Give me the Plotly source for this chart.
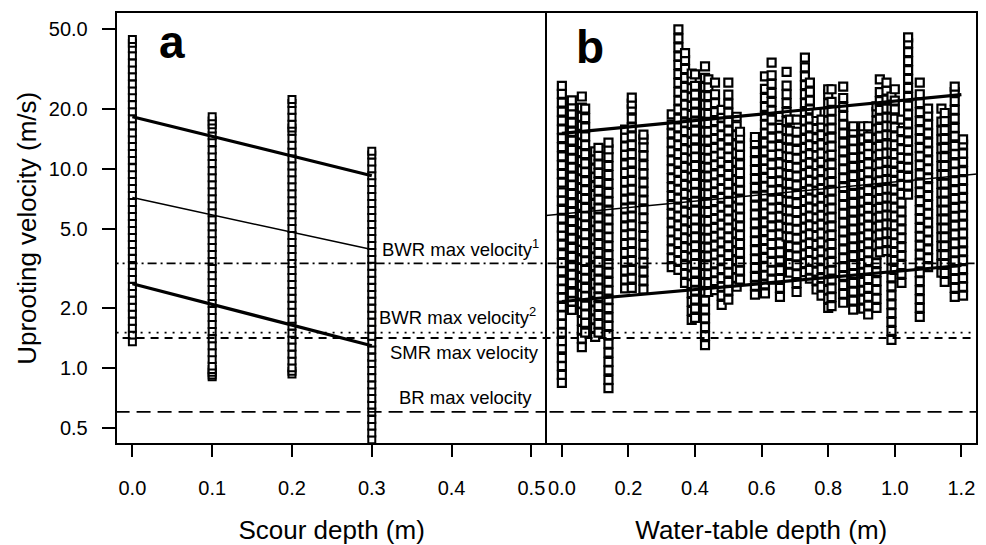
import numpy as np
import plotly.graph_objects as go

# ---------------- Panel a: scour depth ----------------
scour_depth = [0.0, 0.1, 0.2, 0.3]
scour_velocity = [
    [1.35, 1.46, 1.58, 1.71, 1.86, 2.01, 2.18, 2.37, 2.56, 2.78, 3.01, 3.27, 3.54, 3.84, 4.16,
     4.51, 4.89, 5.3, 5.75, 6.23, 6.75, 7.32, 7.94, 8.6, 9.33, 10.1, 11.0, 11.9, 12.9, 14.0,
     15.1, 16.4, 17.8, 19.3, 20.9, 22.7, 24.6, 26.6, 28.9, 31.3, 33.9, 36.8, 39.9, 42.5, 44.5],
    [0.9, 0.92, 0.95, 0.98, 1.02, 1.1, 1.19, 1.29, 1.4, 1.52, 1.65, 1.79, 1.94, 2.1, 2.28,
     2.47, 2.68, 2.9, 3.15, 3.41, 3.7, 4.01, 4.35, 4.71, 5.11, 5.54, 6.0, 6.51, 7.05, 7.65,
     8.29, 8.99, 9.74, 10.6, 11.5, 12.4, 13.5, 14.6, 15.8, 16.6, 17.3, 18.2],
    [0.93, 0.96, 1.0, 1.08, 1.17, 1.27, 1.38, 1.49, 1.62, 1.75, 1.9, 2.06, 2.23, 2.42, 2.62,
     2.84, 3.08, 3.34, 3.62, 3.92, 4.25, 4.61, 5.0, 5.42, 5.87, 6.37, 6.9, 7.48, 8.11, 8.79,
     9.53, 10.3, 11.2, 12.1, 13.1, 14.2, 15.4, 16.0, 16.7, 18.1, 19.6, 21.2, 22.2],
    [0.435, 0.47, 0.51, 0.55, 0.6, 0.65, 0.7, 0.76, 0.82, 0.89, 0.97, 1.05, 1.13, 1.23, 1.33,
     1.44, 1.56, 1.69, 1.84, 1.99, 2.16, 2.34, 2.53, 2.75, 2.98, 3.23, 3.5, 3.79, 4.11, 4.46,
     4.83, 5.24, 5.68, 6.15, 6.67, 7.23, 7.84, 8.5, 9.21, 9.98, 10.8, 11.7, 12.2],
]

# ---------------- Panel b: water-table depth ----------------
wt_depth = [0.00, 0.03, 0.06, 0.07, 0.10, 0.11, 0.14, 0.19, 0.21, 0.245,
            0.33, 0.35, 0.37, 0.39, 0.40, 0.43, 0.44, 0.46, 0.48, 0.50,
            0.525, 0.535, 0.58, 0.61, 0.63, 0.655, 0.675, 0.685, 0.705, 0.73,
            0.745, 0.765, 0.78, 0.80, 0.81, 0.845, 0.875, 0.905, 0.92, 0.945,
            0.955, 0.975, 0.99, 1.00, 1.02, 1.04, 1.075, 1.10, 1.14, 1.15,
            1.18, 1.205]
wt_velocity = [
    [0.84, 0.92, 1.02, 1.12, 1.25, 1.36, 1.5, 1.66, 1.83, 2.02, 2.25, 2.48, 2.74, 3.05, 3.36, 3.72, 4.15, 4.6, 5.05, 5.6, 6.2, 6.9, 7.6, 8.5, 9.4, 10.4, 11.5, 12.8, 14.2, 15.7, 17.4, 19.3, 21.4, 23.7, 26.0],
    [1.95, 2.15, 2.38, 2.66, 2.93, 3.25, 3.6, 4.0, 4.45, 4.92, 5.45, 6.05, 6.7, 7.45, 8.25, 9.1, 10.1, 11.2, 12.4, 13.8, 15.3, 17.0, 18.8, 20.5, 22.0],
    [1.27, 1.4, 1.55, 1.72, 1.9, 2.1, 2.33, 2.58, 2.86, 3.17, 3.5, 3.9, 4.3, 4.78, 5.3, 5.85, 6.5, 7.2, 8.0, 8.85, 9.8, 10.9, 12.1, 13.4, 14.8, 16.4, 18.2, 20.2, 23.0],
    [1.5, 1.68, 1.85, 2.05, 2.28, 2.52, 2.8, 3.1, 3.43, 3.8, 4.22, 4.68, 5.2, 5.75, 6.35, 7.05, 7.8, 8.65, 9.6, 10.6, 11.8, 13.1, 14.5, 16.1, 17.9, 20.0],
    [1.43, 1.58, 1.75, 1.94, 2.15, 2.38, 2.64, 2.92, 3.24, 3.59, 3.98, 4.41, 4.9, 5.42, 6.0, 6.65, 7.37, 8.17, 9.05, 10.0, 11.1, 12.2],
    [1.5, 1.66, 1.84, 2.04, 2.26, 2.5, 2.77, 3.07, 3.4, 3.77, 4.18, 4.63, 5.13, 5.68, 6.3, 6.98, 7.73, 8.57, 9.5, 10.5, 11.6, 12.7],
    [0.79, 0.87, 0.97, 1.07, 1.19, 1.32, 1.46, 1.62, 1.79, 1.99, 2.2, 2.44, 2.7, 3.0, 3.32, 3.68, 4.08, 4.52, 5.0, 5.55, 6.15, 6.82, 7.55, 8.37, 9.28, 10.3, 11.4, 12.5, 13.5],
    [2.5, 2.77, 3.07, 3.4, 3.77, 4.18, 4.63, 5.13, 5.69, 6.3, 6.98, 7.74, 8.58, 9.5, 10.5, 11.7, 12.9, 14.3, 15.7],
    [2.52, 2.8, 3.1, 3.44, 3.81, 4.22, 4.68, 5.19, 5.75, 6.37, 7.06, 7.83, 8.68, 9.62, 10.7, 11.8, 13.1, 14.5, 16.1, 17.8, 19.8, 21.2, 22.7],
    [2.47, 2.74, 3.04, 3.37, 3.73, 4.14, 4.59, 5.08, 5.63, 6.24, 6.92, 7.67, 8.5, 9.42, 10.4, 11.6, 12.8, 14.0, 14.8],
    [3.2, 3.55, 3.93, 4.36, 4.83, 5.35, 5.93, 6.57, 7.28, 8.07, 8.95, 9.92, 11.0, 12.2, 13.5, 15.0, 16.6, 18.7],
    [3.1, 3.44, 3.81, 4.22, 4.68, 5.19, 5.75, 6.37, 7.06, 7.83, 8.68, 9.62, 10.7, 11.8, 13.1, 14.5, 16.1, 17.8, 19.8, 21.9, 24.3, 26.9, 29.8, 33.1, 36.6, 40.6, 45.0, 50.0],
    [2.67, 2.96, 3.28, 3.64, 4.03, 4.47, 4.95, 5.49, 6.08, 6.74, 7.47, 8.28, 9.18, 10.2, 11.3, 12.5, 13.9, 15.4, 17.0, 18.9, 20.9, 23.2, 25.7, 28.5, 31.6, 35.0, 38.0],
    [1.74, 1.93, 2.14, 2.37, 2.63, 2.91, 3.23, 3.58, 3.96, 4.39, 4.87, 5.4, 5.98, 6.63, 7.35, 8.14, 9.03, 10.0, 11.1, 12.3, 13.6, 15.1, 16.7, 18.6, 20.6, 22.8, 25.3, 28.0, 30.0],
    [1.78, 1.98, 2.2, 2.44, 2.7, 3.0, 3.32, 3.68, 4.08, 4.52, 5.01, 5.55, 6.15, 6.82, 7.56, 8.38, 9.29, 10.3, 11.4, 12.6, 14.0, 15.5, 17.2, 19.1, 21.2, 23.5, 26.0, 29.7],
    [1.3, 1.44, 1.6, 1.77, 1.96, 2.17, 2.41, 2.67, 2.96, 3.28, 3.63, 4.03, 4.46, 4.95, 5.48, 6.08, 6.73, 7.46, 8.27, 9.17, 10.2, 11.3, 12.5, 13.8, 15.3, 17.0, 18.9, 20.9, 23.2, 25.7, 28.5, 32.6],
    [2.4, 2.66, 2.95, 3.27, 3.62, 4.01, 4.45, 4.93, 5.46, 6.05, 6.71, 7.44, 8.24, 9.14, 10.1, 11.2, 12.4, 13.8, 15.3, 16.9, 18.8, 20.8, 23.1, 25.6, 28.0],
    [2.45, 2.72, 3.01, 3.34, 3.7, 4.1, 4.55, 5.04, 5.59, 6.19, 6.86, 7.61, 8.43, 9.35, 10.4, 11.5, 12.7, 14.1, 15.6, 17.3, 19.2, 21.3, 23.6, 27.0],
    [2.07, 2.3, 2.55, 2.82, 3.13, 3.47, 3.84, 4.26, 4.72, 5.23, 5.8, 6.43, 7.12, 7.9, 8.75, 9.7, 10.8, 11.9, 13.2, 14.7, 16.3, 18.0, 19.7],
    [2.2, 2.44, 2.7, 3.0, 3.32, 3.68, 4.08, 4.52, 5.01, 5.55, 6.15, 6.82, 7.56, 8.38, 9.29, 10.3, 11.4, 12.6, 14.0, 15.5, 17.2, 19.1, 21.2, 23.5, 27.0],
    [2.55, 2.83, 3.13, 3.47, 3.85, 4.27, 4.73, 5.24, 5.81, 6.44, 7.14, 7.91, 8.77, 9.72, 10.8, 11.9, 13.2, 14.7, 16.3, 18.2],
    [2.77, 3.07, 3.4, 3.77, 4.18, 4.63, 5.13, 5.69, 6.3, 6.98, 7.74, 8.58, 9.5, 10.5, 11.7, 12.9, 14.3, 15.3],
    [2.33, 2.58, 2.86, 3.17, 3.51, 3.89, 4.32, 4.78, 5.3, 5.88, 6.51, 7.22, 8.0, 8.87, 9.83, 10.9, 12.1, 13.4, 14.4],
    [2.36, 2.62, 2.9, 3.21, 3.56, 3.95, 4.37, 4.85, 5.37, 5.95, 6.6, 7.31, 8.1, 8.98, 9.95, 11.0, 12.2, 13.5, 15.0, 16.6, 18.4, 20.4, 22.6, 25.1, 29.0],
    [2.77, 3.07, 3.4, 3.77, 4.18, 4.63, 5.13, 5.69, 6.3, 6.98, 7.74, 8.58, 9.5, 10.5, 11.7, 12.9, 14.3, 15.9, 17.6, 19.5, 21.6, 24.0, 26.6, 29.4, 34.0],
    [2.27, 2.52, 2.79, 3.09, 3.43, 3.8, 4.21, 4.67, 5.17, 5.73, 6.35, 7.04, 7.8, 8.65, 9.58, 10.6, 11.8, 13.0, 14.5, 16.0, 18.2],
    [4.55, 5.04, 5.59, 6.19, 6.86, 7.61, 8.43, 9.35, 10.4, 11.5, 12.7, 14.1, 15.6, 17.3, 19.2, 21.3, 23.6, 26.1, 30.6],
    [3.0, 3.32, 3.68, 4.08, 4.52, 5.01, 5.55, 6.15, 6.82, 7.56, 8.38, 9.29, 10.3, 11.4, 12.6, 14.0, 15.5, 17.6],
    [2.4, 2.66, 2.95, 3.27, 3.62, 4.01, 4.45, 4.93, 5.46, 6.05, 6.71, 7.44, 8.24, 9.14, 10.1, 11.2, 12.4, 13.8, 15.3, 17.6],
    [3.02, 3.35, 3.71, 4.11, 4.56, 5.05, 5.6, 6.2, 6.87, 7.62, 8.45, 9.36, 10.4, 11.5, 12.7, 14.1, 15.7, 17.4, 19.2, 21.3, 23.6, 26.2, 29.0, 32.2, 36.0],
    [2.8, 3.1, 3.44, 3.81, 4.22, 4.68, 5.19, 5.75, 6.37, 7.06, 7.83, 8.68, 9.62, 10.7, 11.8, 13.1, 14.5, 16.1, 17.8, 19.8, 21.9, 24.3, 27.0],
    [2.47, 2.74, 3.04, 3.37, 3.73, 4.14, 4.59, 5.08, 5.63, 6.24, 6.92, 7.67, 8.5, 9.42, 10.4, 11.6, 12.8, 14.2, 15.8, 17.5, 19.0],
    [2.3, 2.55, 2.82, 3.13, 3.47, 3.84, 4.26, 4.72, 5.23, 5.8, 6.43, 7.12, 7.9, 8.75, 9.7, 10.8, 11.9, 13.2, 14.7, 16.3, 17.6],
    [2.0, 2.22, 2.46, 2.72, 3.02, 3.35, 3.71, 4.11, 4.56, 5.05, 5.6, 6.2, 6.87, 7.62, 8.45, 9.36, 10.4, 11.5, 12.7, 14.1, 15.7, 17.4, 19.2, 21.3, 23.6, 25.0],
    [2.04, 2.26, 2.5, 2.77, 3.07, 3.4, 3.77, 4.18, 4.63, 5.13, 5.69, 6.3, 6.98, 7.74, 8.58, 9.5, 10.5, 11.7, 12.9, 14.3, 15.9, 17.6, 19.5, 21.6, 25.0],
    [2.12, 2.35, 2.6, 2.89, 3.2, 3.55, 3.93, 4.36, 4.83, 5.35, 5.93, 6.57, 7.28, 8.07, 8.95, 9.92, 11.0, 12.2, 13.5, 15.0, 16.6, 18.4, 20.4, 22.6, 25.8],
    [1.96, 2.17, 2.41, 2.67, 2.96, 3.28, 3.63, 4.03, 4.46, 4.95, 5.48, 6.08, 6.73, 7.46, 8.27, 9.17, 10.2, 11.3, 12.5, 13.8, 15.3, 16.3],
    [1.98, 2.2, 2.44, 2.7, 3.0, 3.32, 3.68, 4.08, 4.52, 5.01, 5.55, 6.15, 6.82, 7.56, 8.38, 9.29, 10.3, 11.4, 12.6, 14.0, 15.5, 16.3],
    [1.85, 2.05, 2.27, 2.52, 2.79, 3.09, 3.43, 3.8, 4.21, 4.67, 5.17, 5.73, 6.35, 7.04, 7.8, 8.65, 9.58, 10.6, 11.8, 13.0, 14.5, 16.3],
    [2.0, 2.22, 2.46, 2.72, 3.02, 3.35, 3.71, 4.11, 4.56, 5.05, 5.6, 6.2, 6.87, 7.62, 8.45, 9.36, 10.4, 11.5, 12.7, 14.1, 15.7, 17.4, 19.2, 20.5],
    [3.8, 4.21, 4.67, 5.17, 5.73, 6.35, 7.04, 7.8, 8.65, 9.58, 10.6, 11.8, 13.0, 14.5, 16.0, 17.8, 19.7, 21.8, 24.2, 28.0],
    [3.85, 4.27, 4.73, 5.24, 5.81, 6.44, 7.14, 7.91, 8.77, 9.72, 10.8, 11.9, 13.2, 14.7, 16.3, 18.0, 20.0, 22.2, 24.6, 27.0],
    [1.38, 1.53, 1.7, 1.88, 2.08, 2.31, 2.56, 2.84, 3.14, 3.48, 3.86, 4.28, 4.74, 5.25, 5.82, 6.45, 7.15, 7.92, 8.78, 9.73, 10.8, 12.0, 13.2, 14.7, 16.3, 18.0, 20.0, 23.0],
    [3.1, 3.44, 3.81, 4.22, 4.68, 5.19, 5.75, 6.37, 7.06, 7.83, 8.68, 9.62, 10.7, 11.8, 13.1, 14.5, 16.1, 17.8, 19.8, 21.9, 25.0],
    [2.67, 2.96, 3.28, 3.64, 4.03, 4.47, 4.95, 5.49, 6.08, 6.74, 7.47, 8.28, 9.18, 10.2, 11.3, 12.5, 13.9, 15.4, 17.6],
    [7.4, 8.2, 9.09, 10.1, 11.2, 12.4, 13.7, 15.2, 16.8, 18.7, 20.7, 22.9, 25.4, 28.2, 31.2, 34.6, 38.4, 42.5, 45.5],
    [1.8, 2.0, 2.21, 2.45, 2.72, 3.01, 3.34, 3.7, 4.1, 4.55, 5.04, 5.59, 6.19, 6.86, 7.61, 8.43, 9.35, 10.4, 11.5, 12.7, 14.1, 15.6, 17.3, 19.2, 21.3, 23.6, 27.0],
    [3.2, 3.55, 3.93, 4.36, 4.83, 5.35, 5.93, 6.57, 7.28, 8.07, 8.95, 9.92, 11.0, 12.2, 13.5, 15.0, 16.6, 18.4, 20.0],
    [3.0, 3.32, 3.68, 4.08, 4.52, 5.01, 5.55, 6.15, 6.82, 7.56, 8.38, 9.29, 10.3, 11.4, 12.6, 14.0, 15.5, 17.2, 20.0],
    [2.7, 2.99, 3.32, 3.68, 4.08, 4.52, 5.01, 5.55, 6.16, 6.83, 7.57, 8.4, 9.3, 10.3, 11.4, 12.7, 14.1, 15.6, 17.3, 19.0],
    [2.27, 2.52, 2.79, 3.09, 3.43, 3.8, 4.21, 4.67, 5.17, 5.73, 6.35, 7.04, 7.8, 8.65, 9.58, 10.6, 11.8, 13.0, 14.5, 16.0, 17.8, 19.7, 21.8, 24.2, 25.8],
    [2.3, 2.55, 2.82, 3.13, 3.47, 3.84, 4.26, 4.72, 5.23, 5.8, 6.43, 7.12, 7.9, 8.75, 9.7, 10.8, 11.9, 13.2, 14.0],
]

# ---------------- Fitted regression lines (straight on log axis) ----------------
scour_fit_depth = [0.0, 0.3]
scour_fit_upper = [18.2, 9.2]
scour_fit_mid = [7.15, 3.92]
scour_fit_lower = [2.64, 1.29]

wt_fit_depth = [0.0, 1.2]
wt_fit_upper = [15.0, 23.5]
wt_fit_lower = [2.15, 3.26]
wt_fit_mid_depth = [-0.05, 1.25]
wt_fit_mid = [5.8, 9.4]

# ---------------- Maximum-velocity thresholds ----------------
threshold_labels = ["BWR max velocity<sup>1</sup>", "BWR max velocity<sup>2</sup>",
                    "SMR max velocity", "BR max velocity"]
threshold_values = [3.34, 1.50, 1.41, 0.60]

y_ticks = [0.5, 1.0, 2.0, 5.0, 10.0, 20.0, 50.0]
y_ticktext = ["0.5", "1.0", "2.0", "5.0", "10.0", "20.0", "50.0"]
a_ticks = [0.0, 0.1, 0.2, 0.3, 0.4, 0.5]
b_ticks = [0.0, 0.2, 0.4, 0.6, 0.8, 1.0, 1.2]

FONT = "Liberation Sans, Arial, Helvetica, sans-serif"
square_a = dict(symbol="square", size=7, color="white", line=dict(color="black", width=2))
square_b = dict(symbol="square", size=8, color="white", line=dict(color="black", width=2.2))

fig = go.Figure()

# observations
for d, vals in zip(scour_depth, scour_velocity):
    fig.add_trace(go.Scatter(x=[d] * len(vals), y=vals, mode="markers", marker=square_a,
                             xaxis="x", yaxis="y", hoverinfo="skip"))
for d, vals in zip(wt_depth, wt_velocity):
    fig.add_trace(go.Scatter(x=[d] * len(vals), y=vals, mode="markers", marker=square_b,
                             xaxis="x2", yaxis="y2", hoverinfo="skip"))

# regression lines
def fit_line(x, y, width, ax):
    xa, ya = ax
    fig.add_trace(go.Scatter(x=x, y=y, mode="lines", line=dict(color="black", width=width),
                             xaxis=xa, yaxis=ya, hoverinfo="skip"))

fit_line(scour_fit_depth, scour_fit_upper, 3.2, ("x", "y"))
fit_line(scour_fit_depth, scour_fit_mid, 1.5, ("x", "y"))
fit_line(scour_fit_depth, scour_fit_lower, 3.2, ("x", "y"))
fit_line(wt_fit_depth, wt_fit_upper, 3.2, ("x2", "y2"))
fit_line(wt_fit_mid_depth, wt_fit_mid, 1.5, ("x2", "y2"))
fit_line(wt_fit_depth, wt_fit_lower, 3.2, ("x2", "y2"))

# threshold lines across both panels
dashes = ["9px,4px,2px,4px", "2px,6px", "8px,6px", "14px,7px"]
for v, dsh in zip(threshold_values, dashes):
    for xa, ya, span in (("x", "y", [-0.1, 0.6]), ("x2", "y2", [-0.1, 1.3])):
        fig.add_trace(go.Scatter(x=span, y=[v, v], mode="lines",
                                 line=dict(color="black", width=1.8, dash=dsh),
                                 xaxis=xa, yaxis=ya, hoverinfo="skip"))

# threshold labels
label_x = [0.5115, 0.508, 0.5115, 0.503]
label_anchor = ["bottom", "bottom", "top", "bottom"]
label_shift = [1, 3, -2, 2]
annotations = []
for txt, v, lx, ya, sh in zip(threshold_labels, threshold_values, label_x, label_anchor, label_shift):
    annotations.append(dict(text=txt, x=lx, y=np.log10(v), xref="x", yref="y",
                            xanchor="right", yanchor=ya, yshift=sh, showarrow=False,
                            font=dict(size=18.5, family=FONT, color="black")))

# panel letters
annotations.append(dict(text="<b>a</b>", x=157 / 986, y=1 - 42 / 545, xref="paper", yref="paper",
                        xanchor="left", yanchor="middle", showarrow=False,
                        font=dict(size=46, family=FONT, color="black")))
annotations.append(dict(text="<b>b</b>", x=574 / 986, y=1 - 47 / 545, xref="paper", yref="paper",
                        xanchor="left", yanchor="middle", showarrow=False,
                        font=dict(size=46, family=FONT, color="black")))

y_dom = [0.1866, 0.9756]
y_rng = [-0.3793, 1.7793]
common_x = dict(ticks="outside", ticklen=12, tickwidth=1.5, tickcolor="black",
                showline=True, linewidth=2, linecolor="black", mirror=True,
                showgrid=False, zeroline=False, ticklabelstandoff=14,
                tickfont=dict(size=20, family=FONT, color="black"))

fig.update_layout(
    width=986, height=545, margin=dict(l=0, r=0, t=0, b=0),
    paper_bgcolor="white", plot_bgcolor="white", showlegend=False,
    font=dict(family=FONT, color="black"),
    xaxis=dict(domain=[0.1184, 0.5543], range=[-0.0196, 0.519], anchor="y",
               tickvals=a_ticks, ticktext=[f"{t:.1f}" for t in a_ticks],
               title=dict(text="Scour depth (m)", font=dict(size=26, family=FONT), standoff=24),
               **common_x),
    xaxis2=dict(domain=[0.5543, 0.9899], range=[-0.046, 1.244], anchor="y2",
                tickvals=b_ticks, ticktext=[f"{t:.1f}" for t in b_ticks],
                title=dict(text="Water-table depth (m)", font=dict(size=26, family=FONT), standoff=24),
                **common_x),
    # left frame edge only; the panel divider comes from the second panel's y axis
    yaxis=dict(domain=y_dom, type="log", range=y_rng, anchor="x",
               tickvals=y_ticks, ticktext=y_ticktext, ticks="outside", ticklen=13,
               tickwidth=1.5, tickcolor="black", ticklabelstandoff=10,
               showline=True, linewidth=2, linecolor="black", mirror=False,
               showgrid=False, zeroline=False,
               tickfont=dict(size=20, family=FONT, color="black"),
               title=dict(text="Uprooting velocity (m/s)", font=dict(size=26, family=FONT), standoff=5)),
    yaxis2=dict(domain=y_dom, type="log", range=y_rng, anchor="x2",
                showticklabels=False, ticks="", showline=True, linewidth=1.6,
                linecolor="black", mirror=True, showgrid=False, zeroline=False),
    annotations=annotations,
)

fig.write_html("out.html")
